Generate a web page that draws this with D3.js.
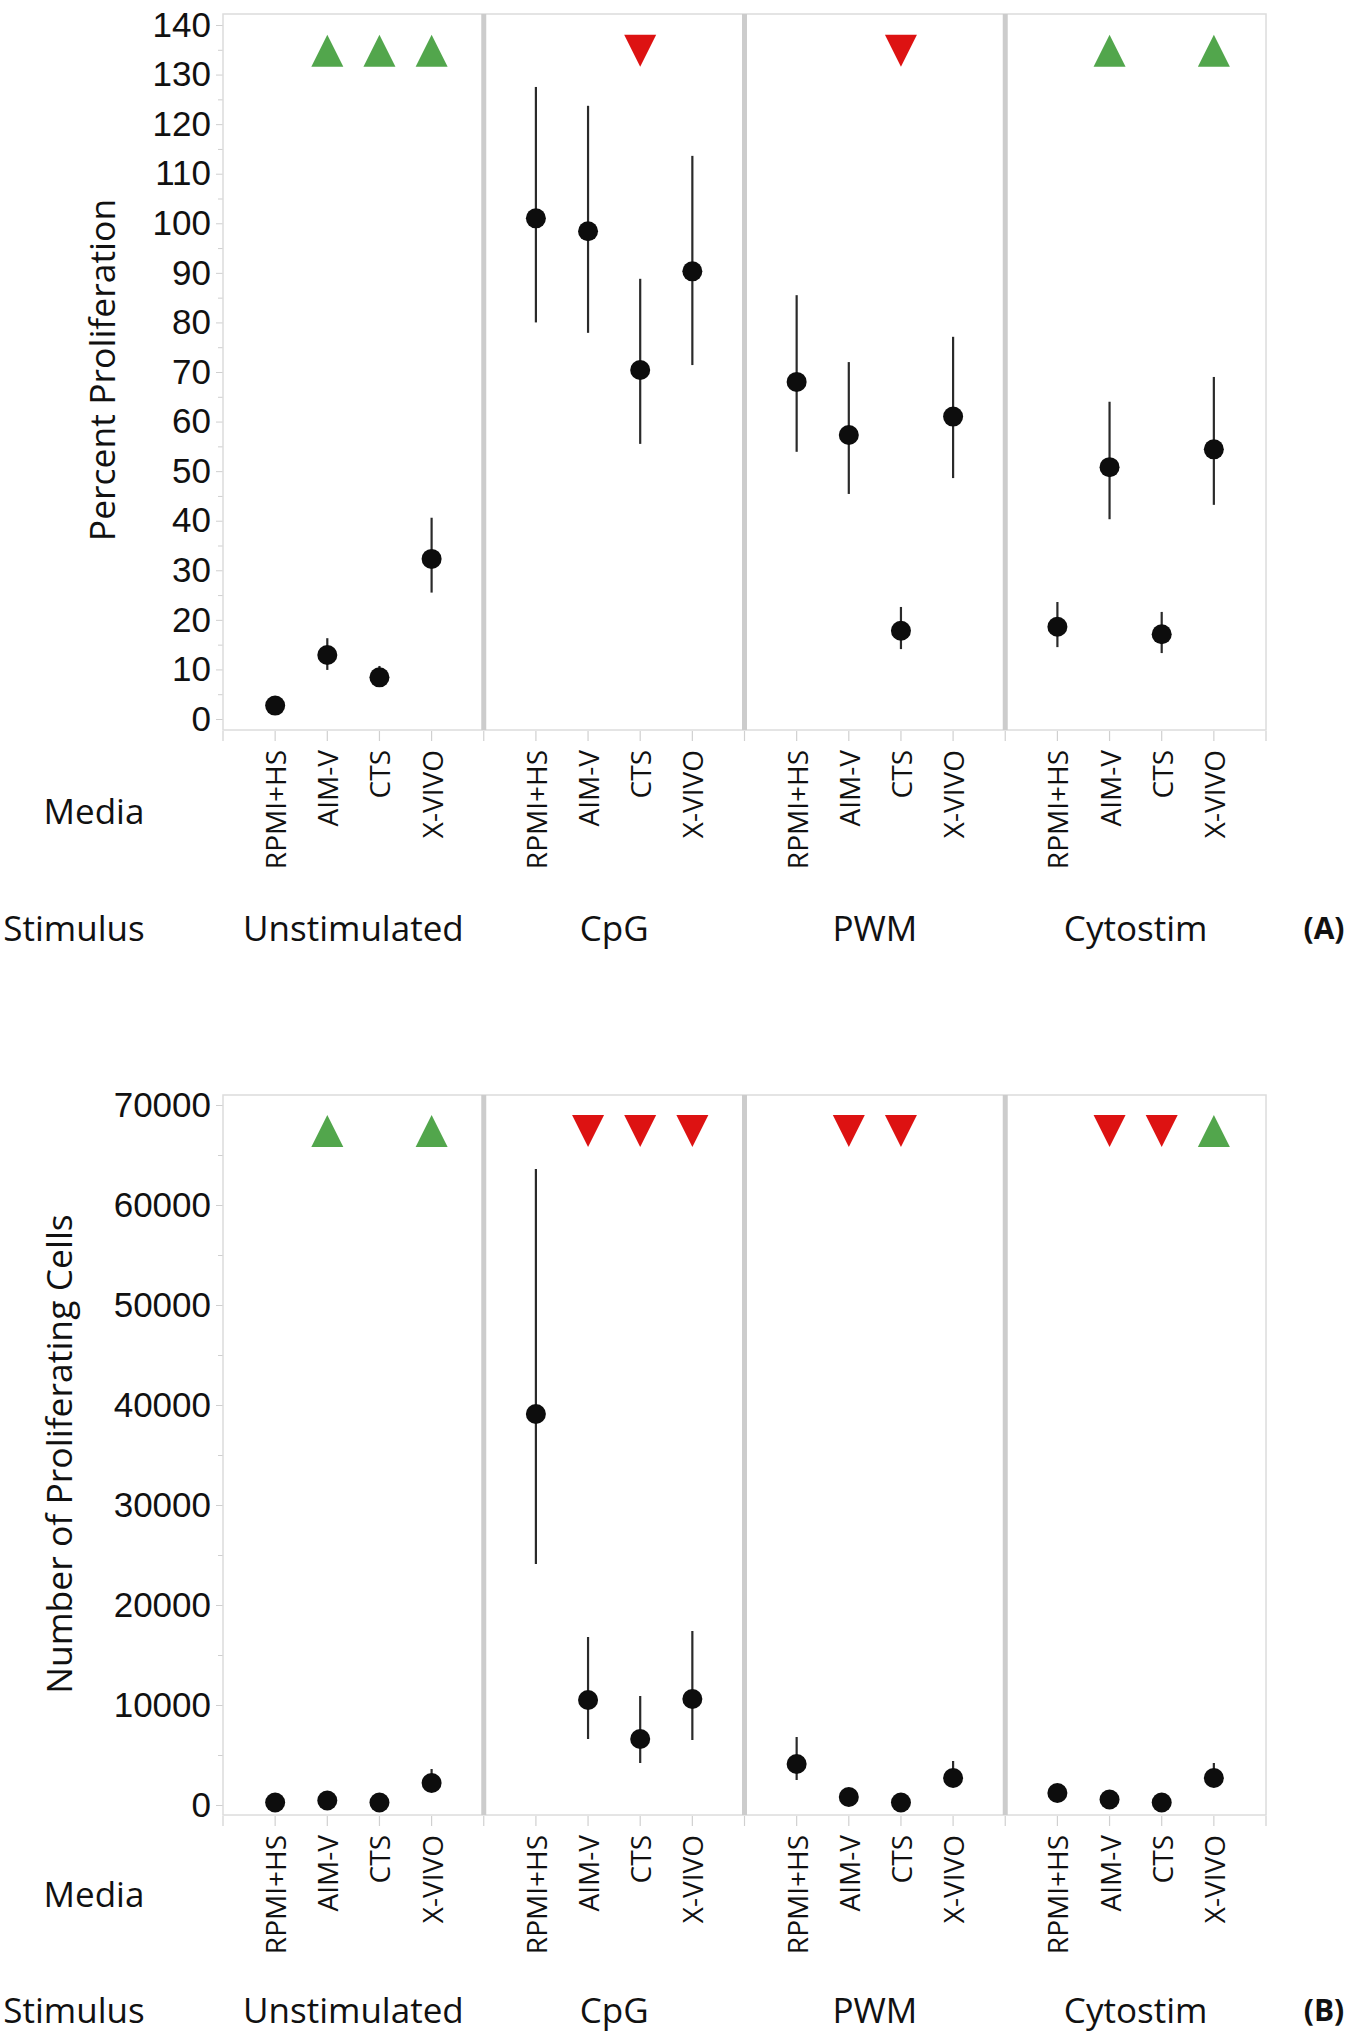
<!DOCTYPE html>
<html>
<head>
<meta charset="utf-8">
<script src="https://cdn.jsdelivr.net/npm/d3@7"></script>
<style>
  html, body { margin: 0; padding: 0; background: #fff; }
  svg { display: block; font-family: "Open Sans", "Noto Sans", sans-serif; }
  .tick line { stroke: #cfcfcf; }
  .tick text { fill: #111; }
</style>
</head>
<body>
<div id="chart"></div>
<script>
// categories
const stimuli = ["Unstimulated", "CpG", "PWM", "Cytostim"];
const media = ["RPMI+HS", "AIM-V", "CTS", "X-VIVO"];

// (A) percent proliferation: mean and interval per stimulus x media
const pctMean = [[2.7, 12.9, 8.4, 32.3], [101.0, 98.4, 70.4, 90.3], [68.0, 57.3, 17.8, 61.0], [18.6, 50.8, 17.1, 54.4]];
const pctLow  = [[2.0, 9.9, 6.8, 25.5], [80.0, 77.9, 55.5, 71.4], [53.9, 45.4, 14.1, 48.6], [14.5, 40.3, 13.3, 43.2]];
const pctHigh = [[3.5, 16.3, 10.7, 40.6], [127.5, 123.7, 88.8, 113.6], [85.5, 72.0, 22.6, 77.1], [23.6, 64.0, 21.6, 69.0]];
// significance markers: 1 = up (green), -1 = down (red)
const pctSig = [[0, 1, 1, 1], [0, 0, -1, 0], [0, 0, -1, 0], [0, 1, 0, 1]];
const pctTicks = [0, 10, 20, 30, 40, 50, 60, 70, 80, 90, 100, 110, 120, 130, 140];
const pctMarkerAt = 134.8;

// (B) number of proliferating cells
const cellMean = [[250, 450, 250, 2200], [39100, 10500, 6600, 10600], [4100, 800, 250, 2700], [1200, 550, 250, 2700]];
const cellLow  = [[100, 250, 100, 1400], [24100, 6600, 4200, 6500], [2500, 500, 100, 1800], [900, 350, 100, 1900]];
const cellHigh = [[400, 700, 400, 3600], [63600, 16800, 10900, 17400], [6800, 1200, 400, 4400], [1500, 800, 400, 4200]];
const cellSig = [[0, 1, 0, 1], [0, -1, -1, -1], [0, -1, -1, 0], [0, -1, -1, 1]];
const cellTicks = [0, 10000, 20000, 30000, 40000, 50000, 60000, 70000];
const cellMarkerAt = 67400;

const W = 1350, H = 2035;
const svg = d3.select("#chart").append("svg").attr("width", W).attr("height", H);

const x = d3.scaleBand().domain(stimuli).range([223, 1266]).paddingInner(0).paddingOuter(0);
const xm = d3.scalePoint().domain(media).range([0, x.bandwidth()]).padding(1);

function panel(o) {
  const g = svg.append("g");
  const y = d3.scaleLinear().domain(o.domain).range(o.yRange);
  const top = o.top, bot = o.bottom, L = x.range()[0], R = x.range()[1];

  // minor + major ticks on the left
  g.append("g").attr("transform", `translate(${L},0)`)
    .call(d3.axisLeft(y).tickValues(o.minor).tickSize(5).tickFormat(""))
    .call(a => a.select(".domain").remove());
  g.append("g").attr("transform", `translate(${L},0)`)
    .call(d3.axisLeft(y).tickValues(o.ticks).tickSize(7).tickPadding(5).tickFormat(d3.format("d")))
    .call(a => a.select(".domain").remove())
    .call(a => a.selectAll("text").attr("font-size", 35));

  // frame
  g.append("rect").attr("x", L).attr("y", top).attr("width", R - L).attr("height", bot - top)
    .attr("fill", "none").attr("stroke", "#dcdcdc").attr("stroke-width", 1.5);

  // panel separators
  g.selectAll("line.sep").data(stimuli.slice(1)).join("line")
    .attr("x1", d => x(d)).attr("x2", d => x(d)).attr("y1", top).attr("y2", bot)
    .attr("stroke", "#cccccc").attr("stroke-width", 5);

  // bottom tick marks at panel boundaries and media positions
  const tx = [];
  stimuli.forEach(s => { tx.push(x(s)); media.forEach(m => tx.push(x(s) + xm(m))); });
  tx.push(R);
  g.selectAll("line.bt").data(tx).join("line")
    .attr("x1", d => d).attr("x2", d => d).attr("y1", bot + 1).attr("y2", bot + 11)
    .attr("stroke", "#d0d0d0").attr("stroke-width", 1.2);

  const rows = [];
  stimuli.forEach((s, i) => media.forEach((m, j) => rows.push({
    s, m, v: o.mean[i][j], lo: o.low[i][j], hi: o.high[i][j], sig: o.sig[i][j]
  })));
  const cx = d => x(d.s) + xm(d.m);

  // error bars
  g.selectAll("line.err").data(rows).join("line")
    .attr("x1", cx).attr("x2", cx).attr("y1", d => y(d.lo)).attr("y2", d => y(d.hi))
    .attr("stroke", "#2a2a2a").attr("stroke-width", 2.2);

  // means
  g.selectAll("circle").data(rows).join("circle")
    .attr("cx", cx).attr("cy", d => y(d.v)).attr("r", 10).attr("fill", "#0d0d0d");

  // significance triangles
  const ym = y(o.markerAt), hw = 16, hh = 16;
  g.selectAll("path.sig").data(rows.filter(d => d.sig !== 0)).join("path")
    .attr("d", d => {
      const c = cx(d);
      return d.sig > 0
        ? `M${c - hw},${ym + hh}L${c + hw},${ym + hh}L${c},${ym - hh}Z`
        : `M${c - hw},${ym - hh}L${c + hw},${ym - hh}L${c},${ym + hh}Z`;
    })
    .attr("fill", d => d.sig > 0 ? "#52a64c" : "#dd1212");

  // media labels (rotated)
  g.selectAll("text.med").data(rows).join("text")
    .attr("transform", d => `translate(${cx(d)},${bot + 20}) rotate(-90)`)
    .attr("text-anchor", "end").attr("dominant-baseline", "central")
    .attr("font-size", 28).attr("fill", "#111").text(d => d.m);

  // row headers and stimulus names
  g.append("text").attr("x", 94).attr("y", o.mediaY).attr("text-anchor", "middle")
    .attr("dominant-baseline", "central").attr("font-size", 35).attr("fill", "#111").text("Media");
  g.append("text").attr("x", 74).attr("y", o.stimY).attr("text-anchor", "middle")
    .attr("dominant-baseline", "central").attr("font-size", 35).attr("fill", "#111").text("Stimulus");
  g.selectAll("text.stim").data(stimuli).join("text")
    .attr("x", d => x(d) + x.bandwidth() / 2).attr("y", o.stimY)
    .attr("text-anchor", "middle").attr("dominant-baseline", "central")
    .attr("font-size", 35).attr("fill", "#111").text(d => d);
  g.append("text").attr("x", 1324).attr("y", o.stimY).attr("text-anchor", "middle")
    .attr("dominant-baseline", "central").attr("font-size", 30).attr("font-weight", "bold")
    .attr("fill", "#111").text(o.tag);

  // y title
  g.append("text").attr("transform", `translate(${o.titleX},${o.titleY}) rotate(-90)`)
    .attr("text-anchor", "middle").attr("dominant-baseline", "central")
    .attr("font-size", 35.5).attr("fill", "#111").text(o.title);
}

panel({
  domain: [0, 140], yRange: [719, 25], top: 14, bottom: 730,
  ticks: pctTicks, minor: d3.range(5, 140, 10),
  mean: pctMean, low: pctLow, high: pctHigh, sig: pctSig, markerAt: pctMarkerAt,
  mediaY: 810, stimY: 927, tag: "(A)",
  title: "Percent Proliferation", titleX: 101, titleY: 370
});

panel({
  domain: [0, 70000], yRange: [1805, 1105], top: 1095, bottom: 1815,
  ticks: cellTicks, minor: d3.range(5000, 70000, 10000),
  mean: cellMean, low: cellLow, high: cellHigh, sig: cellSig, markerAt: cellMarkerAt,
  mediaY: 1893, stimY: 2009, tag: "(B)",
  title: "Number of Proliferating Cells", titleX: 58, titleY: 1454
});
</script>
</body>
</html>
